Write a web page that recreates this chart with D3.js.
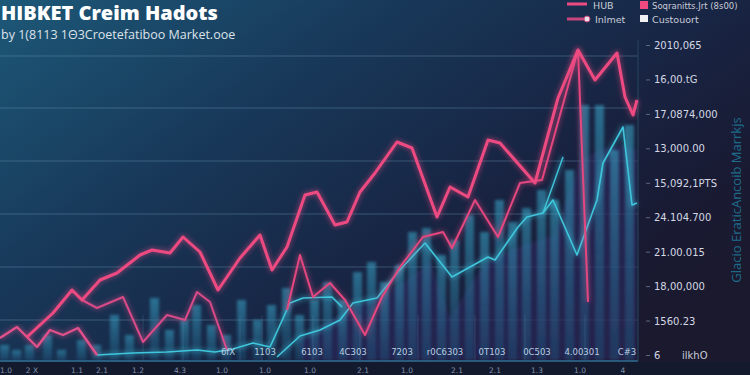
<!DOCTYPE html>
<html>
<head>
<meta charset="utf-8">
<script src="https://cdn.jsdelivr.net/npm/d3@7"></script>
<style>
  html, body { margin: 0; padding: 0; background: #151a2e; }
  svg { display: block; }
</style>
</head>
<body>
<svg id="chart"></svg>
<script>
// ---- data (x = position units 0..64, y = value units 0..32) ----
const hubLine = [
  [2.7,2.3],[5.3,4.7],[7.2,7],[8.2,6],[10,8],[11.7,8.7],[14,10.5],[15.2,11],[17,10.7],[18.3,12.3],
  [20,10.8],[21.8,7],[24,10.2],[26,12.5],[27.2,9],[28.7,11.3],[30.5,16.5],[31.7,16.8],[33.5,13.5],
  [34.7,13.8],[36,16.8],[37.5,18.7],[39.7,21.8],[41.2,21.2],[43.7,14.3],[45,17.3],[46.8,16.3],
  [48.8,22],[50,21.7],[53.5,17.7],[55.8,26.2],[57.8,31],[59.5,28],[61.7,30.7],[62.5,26.3],[63.3,24.5],[63.7,26]
];
const inlmetA = [[0,2.2],[1.7,3.3],[3.7,1.3],[5,3],[6.3,2.5],[7.8,3.2],[9.7,0.5]];
const inlmetB = [[8.2,6],[9.7,5.2],[12.3,6.3],[14.3,1.8],[16.7,4.5],[18.5,4],[19.7,6.8],[21,5.8],[22.7,1]];
const inlmetC = [
  [28.7,5],[30,10.5],[31.3,6.3],[33,7.7],[34.5,6],[36.5,2.5],[38.2,6.3],[40,9.3],[42.3,12.3],
  [44.3,12.8],[45.2,11.2],[47.5,16],[49.8,12.3],[52,17.7],[54.2,18],[57.8,31],[58.8,5.8]
];
const cyanA = [[9.7,0.5],[13.3,0.7],[16.7,0.8],[19.7,1],[21.5,0.8],[23.3,1.1],[25.3,1.7],[27,1.3],[29,5.7],[30.3,6.2],[33.2,6.3],[34.2,5.3]];
const cyanB = [
  [27.7,0.3],[30,2.4],[32,3],[34,4],[35.3,5.7],[37.7,6.2],[39.7,8.7],[42.5,11.7],[45.2,8.3],[48.8,10.3],
  [49.5,10],[51.8,13.3],[52.7,14.3],[54.3,14.7],[55.3,16],[57.7,10.5],[59.7,16],[60.3,19.7],[62.3,23.3],[63.2,15.5],[63.7,15.7]
];
const cyanC = [[54.3,14.7],[56.3,20.3]];
const shadowArea = [[30,2],[34,4.5],[37,6],[40,7.5],[43,9.8],[45,4.2],[47,7.5],[49,10.2],[53,11.7],[55.5,12.5],[58,20],[60,21],[62,21.5],[63.7,21]];
const bars = [
  [0.5,1.5],[1.7,1],[3,1.5],[4.8,2.5],[6.2,1],[8.2,2],[9.7,1.5],[11.5,4.5],[13,2.5],[15.5,6.2],[17,3],
  [18.5,4],[19.7,5.5],[21.2,3.5],[22.7,2.5],[24.2,6],[25.8,4],[27.2,5.5],[28.7,7.2],[30,4.5],[31.5,6],
  [32.8,7.8],[34.3,6],[35.8,8.8],[37.2,9.8],[38.5,7.8],[40,9.5],[41.3,12.8],[42.7,13.2],[44.2,10.5],
  [45.5,12],[47,14.5],[48.5,12.8],[50,16],[51.3,13.8],[52.7,15.2],[54.2,17],[55.5,16],[57,19],
  [58.5,25.5],[60,25.5],[61.5,21],[63,23.5]
];
const gridValues = [4, 9.3, 14.6, 19.9, 25.2, 30.4];
const rightLabels = ["2010,065","16,00.tG","17,0874,000","13,000.00","15,092,1PTS","24.104.700","21.00.015","18,00,000","1560.23","6"];
const innerLabels = [[22.8,"6fX"],[26.5,"1103"],[31.2,"6103"],[35.3,"4C303"],[40.2,"7203"],[44.5,"r0C6303"],[49.2,"0T103"],[53.7,"0C503"],[58.2,"4.00301"],[62.7,"C#3"]];
const footLabels = [[0.6,"1.0"],[3.2,"2 X"],[7.7,"1.1"],[10.2,"2.1"],[13.8,"1.2"],[18,"4.3"],[22.2,"1.0"],[26.5,"1.0"],[31,"1.0"],[36.3,"2.1"],[40.7,"1.0"],[45.7,"2.1"],[49.5,"2.1"],[53.7,"1.3"],[58,"1.0"],[62.3,"4"]];

const W = 750, H = 375;
const svg = d3.select("#chart").attr("width", W).attr("height", H);
const x = d3.scaleLinear().domain([0, 64]).range([0, 640]);
const y = d3.scaleLinear().domain([0, 32]).range([360, 40]);

const defs = svg.append("defs");
const bg = defs.append("linearGradient").attr("id", "bg")
  .attr("x1", 0).attr("y1", 0).attr("x2", 1).attr("y2", 0.7);
[["0%","#1d5878"],["35%","#18395a"],["65%","#182544"],["85%","#191b34"],["100%","#1a192e"]]
  .forEach(s => bg.append("stop").attr("offset", s[0]).attr("stop-color", s[1]));
const barG = defs.append("linearGradient").attr("id", "barG").attr("x1", 0).attr("y1", 0).attr("x2", 0).attr("y2", 1);
barG.append("stop").attr("offset", "0%").attr("stop-color", "#3aa8cc").attr("stop-opacity", 0.55);
barG.append("stop").attr("offset", "100%").attr("stop-color", "#1d5f86").attr("stop-opacity", 0.35);
defs.append("filter").attr("id", "blur").append("feGaussianBlur").attr("stdDeviation", 1.8);
defs.append("filter").attr("id", "glow").attr("x", "-10%").attr("y", "-10%").attr("width", "120%").attr("height", "120%")
  .append("feGaussianBlur").attr("stdDeviation", 2.5);

svg.append("rect").attr("width", W).attr("height", H).attr("fill", "url(#bg)");
svg.append("rect").attr("x", 0).attr("y", 362).attr("width", W).attr("height", 13).attr("fill", "#141a2d");

// grid
svg.append("g").selectAll("line").data(gridValues).join("line")
  .attr("x1", 0).attr("x2", x(63.8)).attr("y1", d => y(d)).attr("y2", d => y(d))
  .attr("stroke", "#6f9fbf").attr("stroke-opacity", 0.38).attr("stroke-width", 1.2);

// dark area behind
svg.append("path").datum(shadowArea)
  .attr("d", d3.area().x(d => x(d[0])).y0(y(0)).y1(d => y(d[1])))
  .attr("fill", "#2a2858").attr("opacity", 0.7).attr("filter", "url(#blur)");

// bars
svg.append("g").attr("filter", "url(#blur)").selectAll("rect").data(bars).join("rect")
  .attr("x", d => x(d[0] - 0.5)).attr("width", x(1) - x(0) - 1)
  .attr("y", d => y(d[1])).attr("height", d => y(0) - y(d[1]))
  .attr("fill", "url(#barG)");

// vertical faint lines
svg.append("g").selectAll("line").data([14.3, 18.3, 24, 26.2, 31.3, 36, 41.8, 47.5, 52.5, 58.5]).join("line")
  .attr("x1", d => x(d)).attr("x2", d => x(d)).attr("y1", y(4.5)).attr("y2", y(0))
  .attr("stroke", "#7fb4d0").attr("stroke-opacity", 0.18);

svg.append("line").attr("x1", 0).attr("x2", x(63.8)).attr("y1", 361).attr("y2", 361)
  .attr("stroke", "#2f6e92").attr("stroke-width", 1.5);
svg.append("line").attr("x1", x(63.8)).attr("x2", x(63.8)).attr("y1", 40).attr("y2", 361)
  .attr("stroke", "#24475f").attr("stroke-width", 1);

const line = d3.line().x(d => x(d[0])).y(d => y(d[1]));
function drawLine(data, color, width) {
  svg.append("path").datum(data).attr("d", line).attr("fill", "none")
    .attr("stroke", color).attr("stroke-width", width + 2).attr("stroke-opacity", 0.45)
    .attr("stroke-linejoin", "round").attr("filter", "url(#glow)");
  svg.append("path").datum(data).attr("d", line).attr("fill", "none")
    .attr("stroke", color).attr("stroke-width", width).attr("stroke-linejoin", "round");
}
drawLine(cyanA, "#3fc6dc", 1.6);
drawLine(cyanB, "#3fc6dc", 1.6);
drawLine(cyanC, "#3fc6dc", 1.4);
drawLine(inlmetA, "#e0508a", 2.4);
drawLine(inlmetB, "#d94a88", 2);
drawLine(inlmetC, "#e4477f", 2);
drawLine(hubLine, "#ee4a82", 3);

// inner bottom labels
svg.append("g").selectAll("text").data(innerLabels).join("text")
  .attr("x", d => x(d[0])).attr("y", 355).attr("text-anchor", "middle")
  .attr("font-family", "DejaVu Sans").attr("font-size", 8.5).attr("fill", "#b8cde0")
  .text(d => d[1]);
svg.append("g").selectAll("text").data(footLabels).join("text")
  .attr("x", d => x(d[0])).attr("y", 373).attr("text-anchor", "middle")
  .attr("font-family", "DejaVu Sans").attr("font-size", 7.5).attr("fill", "#7f8fab")
  .text(d => d[1]);

// right axis
const ry = d3.scalePoint().domain(rightLabels).range([45, 355]);
const rAxis = svg.append("g").attr("transform", "translate(650,0)")
  .call(d3.axisLeft(ry).tickSize(4).tickFormat(""));
rAxis.select(".domain").remove();
rAxis.selectAll("line").attr("stroke", "#5c6880");
svg.append("g").selectAll("text").data(rightLabels).join("text")
  .attr("x", 654).attr("y", d => ry(d) + 4)
  .attr("font-family", "DejaVu Sans").attr("font-size", 10).attr("fill", "#d4d8e4")
  .text(d => d);
svg.append("text").attr("x", 682).attr("y", 359).attr("font-family", "DejaVu Sans")
  .attr("font-size", 10).attr("fill", "#c8ccd8").text("ilkhO");
svg.append("text").attr("transform", "translate(741,200) rotate(-90)").attr("text-anchor", "middle")
  .attr("font-family", "Open Sans").attr("font-size", 13).attr("fill", "#1e6c8c")
  .text("Glacio EraticAncoib Marrkjs");

// title
svg.append("text").attr("x", 1).attr("y", 20).attr("font-family", "Open Sans").attr("font-weight", 800)
  .attr("font-size", 20).attr("fill", "#ffffff").text("HIBKET Creim Hadots");
svg.append("text").attr("x", 1).attr("y", 39).attr("font-family", "Open Sans")
  .attr("font-size", 12.5).attr("fill", "#dde2ea").text("by 1(8113 1Θ3Croetefatiboo Market.ooe");

// legend
const lg = svg.append("g").attr("font-family", "DejaVu Sans").attr("font-size", 9.5).attr("fill", "#c8ccd8");
lg.append("line").attr("x1", 567).attr("x2", 587).attr("y1", 4).attr("y2", 4).attr("stroke", "#ee4a82").attr("stroke-width", 3);
lg.append("text").attr("x", 593).attr("y", 9).text("HUB");
lg.append("rect").attr("x", 640).attr("y", 1).attr("width", 8).attr("height", 8).attr("fill", "#ee4a82");
lg.append("text").attr("x", 652).attr("y", 9).attr("font-size", 8.5).text("Soqranitts.Jrt (8s00)");
lg.append("line").attr("x1", 567).attr("x2", 590).attr("y1", 19).attr("y2", 19).attr("stroke", "#c9457d").attr("stroke-width", 3);
lg.append("circle").attr("cx", 587).attr("cy", 19).attr("r", 3).attr("fill", "#e9e0ea").attr("stroke", "#c9457d");
lg.append("text").attr("x", 595).attr("y", 23).text("Inlmet");
lg.append("rect").attr("x", 640).attr("y", 15).attr("width", 8).attr("height", 7).attr("fill", "#f2f2f4");
lg.append("text").attr("x", 652).attr("y", 23).text("Custouort");
</script>
</body>
</html>
